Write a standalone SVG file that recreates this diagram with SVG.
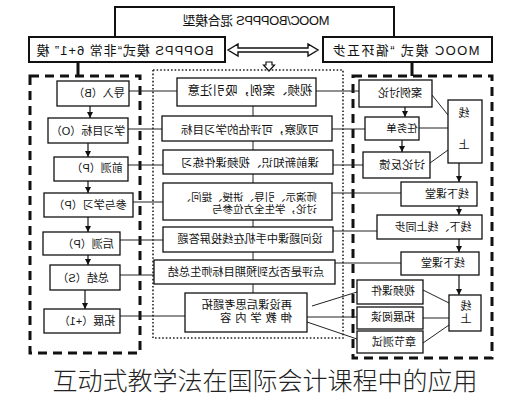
<svg xmlns="http://www.w3.org/2000/svg" width="530" height="400" viewBox="0 0 530 400">
<defs>
<marker id="ah" markerWidth="6" markerHeight="6" refX="6" refY="3" orient="auto" markerUnits="userSpaceOnUse"><path d="M0,0 L6,3 L0,6 z" fill="#111"/></marker>
</defs>
<style>
.b{fill:#fff;stroke:#111;stroke-width:1.3}
.h{fill:#fff;stroke:#111;stroke-width:2}
.t{font-family:"Liberation Sans","Noto Sans CJK SC",sans-serif;fill:#111;text-anchor:middle}
.s{text-anchor:start}
.l{stroke:#222;stroke-width:1;fill:none}
.a{stroke:#111;stroke-width:1.2;fill:none;marker-end:url(#ah)}
.dash{fill:none;stroke:#111;stroke-width:3;stroke-dasharray:9 6}
.dot{fill:none;stroke:#222;stroke-width:1.6;stroke-dasharray:1.6 2}
</style>
<rect width="530" height="400" fill="#fff"/>

<!-- containers -->
<g id="containers">
<rect class="dash" x="30" y="76" width="110" height="277"/>
<rect class="dash" x="353" y="76" width="139" height="282"/>
<rect class="dot" x="153" y="70" width="190" height="268"/>
</g>

<!-- connectors -->
<g id="connectors">
<line x1="78" y1="62" x2="78" y2="76" stroke="#111" stroke-width="3"/>
<line x1="412" y1="62" x2="412" y2="76" stroke="#111" stroke-width="3"/>
<path d="M228,50 L238,44 L238,48 L308,48 L308,44 L318,50 L308,56 L308,52 L238,52 L238,56 Z" fill="#fff" stroke="#111" stroke-width="1.4"/>
<path d="M266,62 L272,62 L272,65 L274.5,65 L269,71 L263.5,65 L266,65 Z" fill="#fff" stroke="#111" stroke-width="1.2"/>
<!-- left column arrows -->
<line class="a" x1="90" y1="106" x2="90" y2="118"/>
<line class="a" x1="88" y1="143" x2="88" y2="157"/>
<line class="a" x1="88" y1="181" x2="88" y2="193"/>
<line class="a" x1="88" y1="217" x2="88" y2="232"/>
<line class="a" x1="88" y1="255" x2="88" y2="265"/>
<line class="a" x1="85" y1="290" x2="85" y2="309"/>
<!-- left to middle -->
<line class="l" x1="129" y1="91" x2="177" y2="91"/>
<line class="l" x1="128" y1="129" x2="162" y2="129"/>
<line class="l" x1="128" y1="165" x2="163" y2="165"/>
<line class="l" x1="133" y1="202" x2="163" y2="202"/>
<line class="l" x1="120" y1="240" x2="163" y2="240"/>
<line class="l" x1="120" y1="275" x2="154" y2="275"/>
<line class="l" x1="120" y1="316" x2="185" y2="316"/>
<!-- middle spine -->
<line class="l" x1="253" y1="106" x2="253" y2="293"/>
<!-- middle to right -->
<line class="l" x1="316" y1="91" x2="359" y2="91"/>
<line class="l" x1="332" y1="129" x2="365" y2="129"/>
<line class="l" x1="333" y1="165" x2="363" y2="165"/>
<line class="l" x1="332" y1="193" x2="401" y2="193"/>
<line class="l" x1="333" y1="231" x2="377" y2="231"/>
<line class="l" x1="335" y1="263" x2="401" y2="263"/>
<line class="l" x1="312" y1="306" x2="357" y2="292"/>
<line class="l" x1="307" y1="317" x2="357" y2="317"/>
<line class="l" x1="307" y1="322" x2="357" y2="339"/>
<!-- right column -->
<line class="a" x1="405" y1="107" x2="405" y2="117"/>
<line class="a" x1="402" y1="140" x2="402" y2="152"/>
<line class="l" x1="432" y1="95" x2="448" y2="115"/>
<line class="l" x1="419" y1="128" x2="448" y2="128"/>
<line class="l" x1="430" y1="163" x2="448" y2="150"/>
<line class="a" x1="459" y1="163" x2="459" y2="182"/>
<line class="a" x1="459" y1="206" x2="459" y2="215"/>
<line class="a" x1="459" y1="239" x2="459" y2="252"/>
<line class="a" x1="459" y1="275" x2="459" y2="295"/>
<line class="l" x1="423" y1="290" x2="449" y2="303"/>
<line class="l" x1="423" y1="318" x2="449" y2="318"/>
<line class="l" x1="423" y1="343" x2="449" y2="325"/>
</g>

<!-- top -->
<g id="top">
<path d="M115,37 V7 H394 V37" fill="#fff" stroke="#111" stroke-width="2"/>
<text class="t" transform="scale(-1,1)" x="-256" y="25" font-size="13" textLength="147" lengthAdjust="spacing">MOOC/BOPPPS 混合模型</text>
</g>
<g id="hdr-bopps">
<rect class="h" x="29" y="37" width="196" height="25"/>
<text class="t" transform="scale(-1,1)" x="-125" y="54.5" font-size="13" textLength="177" lengthAdjust="spacing">BOPPPS 模式“非常 6+1” 模</text>
</g>
<g id="hdr-mooc">
<rect class="h" x="323" y="37" width="169" height="25"/>
<text class="t" transform="scale(-1,1)" x="-406" y="54.5" font-size="13" textLength="147" lengthAdjust="spacing">MOOC 模式 “循环五步</text>
</g>

<!-- left column -->
<g id="L1"><rect class="b" x="57" y="81" width="72" height="25"/><text class="t" transform="scale(-1,1)" x="-99" y="97" font-size="11">导入（B）</text></g>
<g id="L2"><rect class="b" x="48" y="118" width="80" height="25"/><text class="t" transform="scale(-1,1)" x="-88" y="135" font-size="11">学习目标（O）</text></g>
<g id="L3"><rect class="b" x="54" y="157" width="74" height="24"/><text class="t" transform="scale(-1,1)" x="-97" y="172" font-size="11">前测（P）</text></g>
<g id="L4"><rect class="b" x="44" y="193" width="89" height="24"/><text class="t" transform="scale(-1,1)" x="-90" y="209" font-size="11">参与学习（P）</text></g>
<g id="L5"><rect class="b" x="43" y="232" width="77" height="23"/><text class="t" transform="scale(-1,1)" x="-88" y="248" font-size="11">后测（P）</text></g>
<g id="L6"><rect class="b" x="50" y="265" width="70" height="25"/><text class="t" transform="scale(-1,1)" x="-83" y="282" font-size="11">总结（S）</text></g>
<g id="L7"><rect class="b" x="44" y="309" width="76" height="24"/><text class="t" transform="scale(-1,1)" x="-87" y="325" font-size="11">拓展（+1）</text></g>

<!-- middle column -->
<g id="M1"><rect class="b" x="177" y="78" width="139" height="28"/><text class="t" transform="scale(-1,1)" x="-250" y="94.5" font-size="12.5">视频、案例，吸引注意</text></g>
<g id="M2"><rect class="b" x="162" y="116" width="170" height="25"/><text class="t" transform="scale(-1,1)" x="-250" y="134" font-size="11.5">可观察，可评估的学习目标</text></g>
<g id="M3"><rect class="b" x="163" y="150" width="170" height="24"/><text class="t" transform="scale(-1,1)" x="-250" y="167" font-size="11.5">课前新知识、视频课件练习</text></g>
<g id="M4"><rect class="b" x="163" y="183" width="169" height="37"/><text class="t s" transform="scale(-1,1)" x="-317" y="200.5" font-size="10.5">师演示、引导、讲授、提问、</text><text class="t s" transform="scale(-1,1)" x="-317" y="212.5" font-size="10.5">讨论，学生全方位参与</text></g>
<g id="M5"><rect class="b" x="163" y="227" width="170" height="25"/><text class="t" transform="scale(-1,1)" x="-250" y="243" font-size="11.2">设问题课中手机在线投屏答题</text></g>
<g id="M6"><rect class="b" x="154" y="260" width="181" height="24"/><text class="t" transform="scale(-1,1)" x="-246" y="276" font-size="11.2">点评是否达到预期目标师生总结</text></g>
<g id="M7"><rect class="b" x="185" y="293" width="122" height="39"/><text class="t s" transform="scale(-1,1)" x="-292" y="309" font-size="11.3">再设课后思考题拓</text><text class="t s" transform="scale(-1,1)" x="-292" y="322" font-size="11.3" textLength="72" lengthAdjust="spacing">伸教学内容</text></g>

<!-- right column -->
<g id="R1"><rect class="b" x="359" y="80" width="73" height="27"/><text class="t" transform="scale(-1,1)" x="-400" y="97" font-size="11">案例讨论</text></g>
<g id="R2"><rect class="b" x="365" y="117" width="54" height="23"/><text class="t" transform="scale(-1,1)" x="-402" y="132" font-size="10.5">任务单</text></g>
<g id="R3"><rect class="b" x="363" y="152" width="67" height="26"/><text class="t" transform="scale(-1,1)" x="-402" y="169" font-size="11.5">讨论反馈</text></g>
<g id="R4"><rect class="b" x="448" y="100" width="34" height="63"/><text class="t" transform="scale(-1,1)" x="-464" y="117" font-size="11">线</text><text class="t" transform="scale(-1,1)" x="-464" y="149" font-size="11">上</text></g>
<g id="R5"><rect class="b" x="401" y="182" width="76" height="24"/><text class="t" transform="scale(-1,1)" x="-447" y="198" font-size="11">线下课堂</text></g>
<g id="R6"><rect class="b" x="377" y="215" width="105" height="24"/><text class="t" transform="scale(-1,1)" x="-433" y="231" font-size="11">线下、线上同步</text></g>
<g id="R7"><rect class="b" x="401" y="252" width="78" height="23"/><text class="t" transform="scale(-1,1)" x="-443" y="267" font-size="11">线下课堂</text></g>
<g id="R8"><rect class="b" x="449" y="295" width="32" height="36"/><text class="t" transform="scale(-1,1)" x="-466" y="310" font-size="11">线</text><text class="t" transform="scale(-1,1)" x="-466" y="323" font-size="11">上</text></g>
<g id="R9"><rect class="b" x="357" y="280" width="66" height="24"/><text class="t" transform="scale(-1,1)" x="-393" y="295" font-size="11">视频课件</text></g>
<g id="R10"><rect class="b" x="357" y="307" width="66" height="22"/><text class="t" transform="scale(-1,1)" x="-393" y="321" font-size="11">拓展阅读</text></g>
<g id="R11"><rect class="b" x="357" y="331" width="66" height="22"/><text class="t" transform="scale(-1,1)" x="-394" y="346" font-size="11">章节测试</text></g>

<text x="265" y="390" font-family="'Noto Sans CJK SC',sans-serif" font-size="25" font-weight="300" fill="#222" text-anchor="middle">互动式教学法在国际会计课程中的应用</text>
</svg>
